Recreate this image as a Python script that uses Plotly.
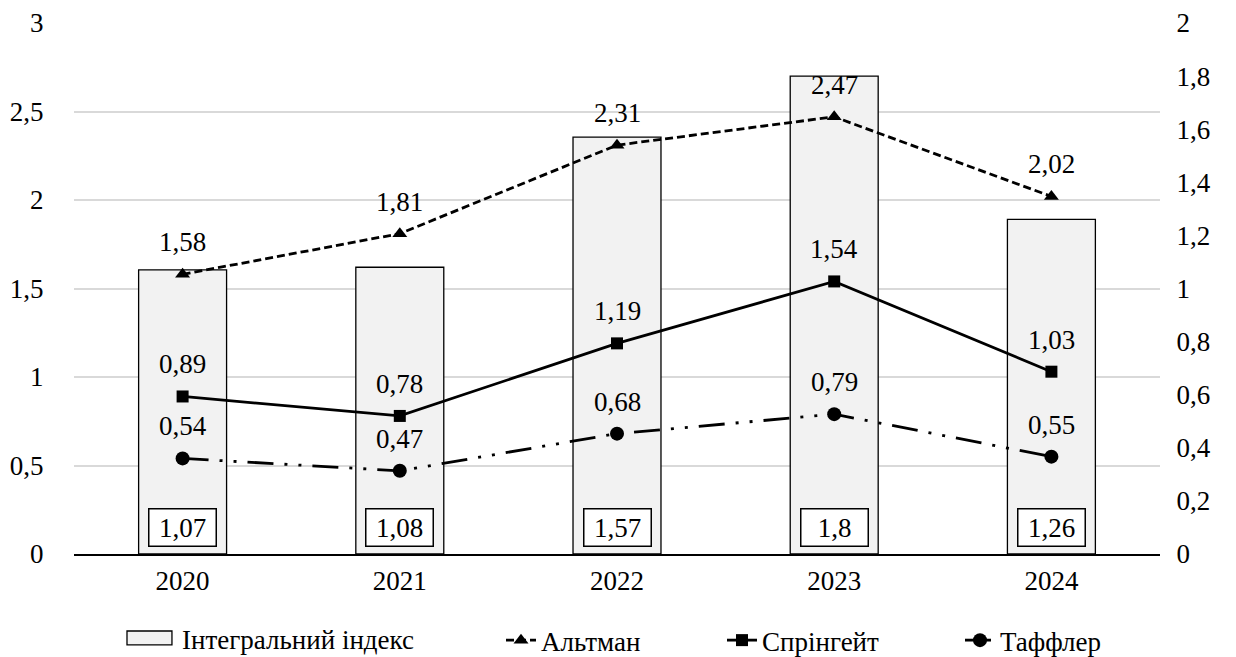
import plotly.graph_objects as go

years = ["2020", "2021", "2022", "2023", "2024"]
integral_index = [1.07, 1.08, 1.57, 1.8, 1.26]
altman = [1.58, 1.81, 2.31, 2.47, 2.02]
springate = [0.89, 0.78, 1.19, 1.54, 1.03]
taffler = [0.54, 0.47, 0.68, 0.79, 0.55]

FONT = "Times New Roman, Liberation Serif, serif"
FS = 27
BAR_NAME = "Інтегральний індекс"


def fmt(v):
    return ("%g" % v).replace(".", ",")


fig = go.Figure()

# Integral index bars on the right-hand axis (primary y, placed on the right)
fig.add_trace(go.Bar(
    x=years, y=integral_index, name=BAR_NAME, showlegend=False,
    marker=dict(color="#f2f2f2", line=dict(color="black", width=1.3)),
    yaxis="y",
))

line_specs = [
    ("Альтман", altman, "8px,4px", "triangle-up", 13, "legend2"),
    ("Спрінгейт", springate, "solid", "square", 12, "legend3"),
    ("Таффлер", taffler, "26px,11px,3px,11px,3px,11px", "circle", 14, "legend4"),
]
for name, vals, dash, sym, size, leg in line_specs:
    fig.add_trace(go.Scatter(
        x=years, y=vals, name=name, mode="lines+markers",
        line=dict(color="black", width=2.8, dash=dash),
        marker=dict(symbol=sym, size=size, color="black"),
        yaxis="y2", legend=leg,
    ))

# category axis: annotation positions are given as category indices
annotations = []
for name, vals, *_ in line_specs:
    for i, v in enumerate(vals):
        annotations.append(dict(
            x=i, y=v, xref="x", yref="y2", text=fmt(v), showarrow=False,
            yshift=32, font=dict(family=FONT, size=FS, color="black"),
        ))
for i, v in enumerate(integral_index):
    annotations.append(dict(
        x=i, y=0, xref="x", yref="y", text=fmt(v), showarrow=False,
        yanchor="bottom", yshift=7, bgcolor="white", width=64, height=34,
        bordercolor="black", borderwidth=1.5, borderpad=1,
        font=dict(family=FONT, size=FS, color="black"),
    ))

# legend key for the bar series
annotations.append(dict(
    x=0.0976, y=-0.162, xref="paper", yref="paper", xanchor="left",
    yanchor="middle", text=BAR_NAME, showarrow=False,
    font=dict(family=FONT, size=FS, color="black"),
))
shapes = [dict(type="rect", xref="paper", yref="paper",
               x0=0.0488, x1=0.0902, y0=-0.171, y1=-0.145,
               fillcolor="#f2f2f2", line=dict(color="black", width=1.3))]

def leg(x):
    return dict(orientation="h", xref="container", x=x, xanchor="left",
                yref="container", y=0.025, yanchor="middle",
                font=dict(family=FONT, size=FS), bgcolor="rgba(0,0,0,0)")

fig.update_layout(
    width=1236, height=657,
    margin=dict(l=74, r=76, t=23, b=103),
    paper_bgcolor="white", plot_bgcolor="white",
    separators=", ",
    font=dict(family=FONT, size=FS, color="black"),
    bargap=0.595,
    showlegend=True,
    legend2=leg(501 / 1236),
    legend3=leg(722 / 1236),
    legend4=leg(960 / 1236),
    xaxis=dict(type="category", range=[-0.5, 4.5], showline=True,
               linecolor="black", linewidth=1.5, automargin=False,
               ticks="outside", ticklen=2, tickcolor="rgba(0,0,0,0)",
               showgrid=False),
    yaxis=dict(side="right", range=[0, 2], dtick=0.2, showgrid=False,
               zeroline=False, ticks="outside", ticklen=10, automargin=False,
               tickcolor="rgba(0,0,0,0)", tickformat="~g"),
    yaxis2=dict(side="left", overlaying="y", range=[0, 3], dtick=0.5,
                showgrid=True, gridcolor="#d9d9d9", gridwidth=1.5,
                zeroline=False, ticks="outside", ticklen=24, automargin=False,
                tickcolor="rgba(0,0,0,0)", tickformat="~g"),
    annotations=annotations,
    shapes=shapes,
)

fig.write_html("out.html")
